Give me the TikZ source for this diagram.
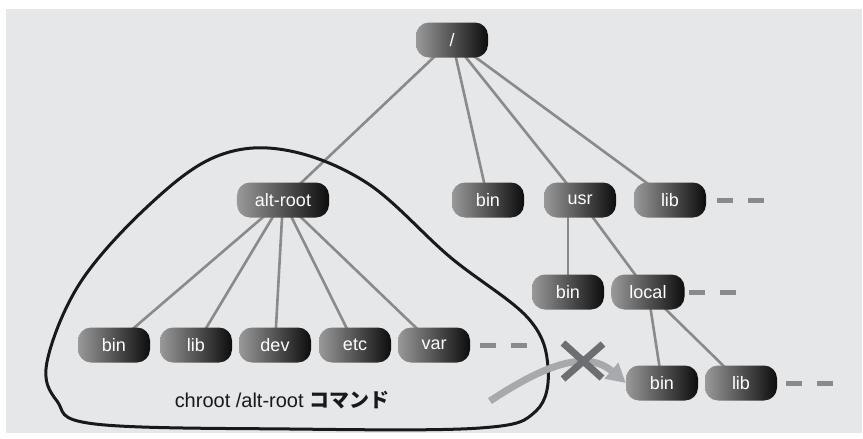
\documentclass[tikz,border=0pt]{standalone}
\usepackage{fontspec}
\setmainfont{Liberation Sans}
\newfontfamily\cjk{Noto Sans CJK JP}
\usetikzlibrary{backgrounds,arrows.meta}
\definecolor{paper}{HTML}{E6E7E8}
\definecolor{linkgray}{HTML}{8A8A8A}
\definecolor{pushgray}{HTML}{A7A9AC}
\definecolor{crossgray}{HTML}{6D6E71}
\tikzset{
  dirbox/.style={rounded corners=13pt, minimum width=72pt, minimum height=35pt,
    inner xsep=18pt, inner ysep=0pt, left color=black!40, right color=black!95,
    text=white, font=\fontsize{18}{20}\selectfont},
  link/.style={linkgray, line width=2.6pt},
  more/.style={linkgray, line width=5pt, dash pattern=on 16pt off 15pt},
}
\begin{document}
\begin{tikzpicture}[x=1pt, y=-1pt]
\useasboundingbox (0,0) rectangle (863,439);

% directory tree
\node[dirbox] (root) at (452,40) {/};
\node[dirbox] (altroot) at (283,200) {alt-root};
\node[dirbox] (bin) at (488,200) {bin};
\node[dirbox] (usr) at (580,200) {usr};
\node[dirbox] (lib) at (670,200) {lib};
\node[dirbox] (usrbin) at (568,292) {bin};
\node[dirbox] (local) at (648,292) {local};
\node[dirbox] (localbin) at (662,383) {bin};
\node[dirbox] (locallib) at (741,383) {lib};

\node[dirbox] (altbin) at (114,345) {bin};
\node[dirbox] (altlib) at (196,345) {lib};
\node[dirbox] (altdev) at (275,345) {dev};
\node[dirbox] (altetc) at (355,345) {etc};
\node[dirbox] (altvar) at (434,345) {var};

\begin{scope}[on background layer]
\fill[paper] (6,9) rectangle (862,433);
\foreach \n in {altroot, bin, usr, lib}
    \draw[link] (root.center) -- (\n.center);
\foreach \n in {altbin, altlib, altdev, altetc, altvar}
    \draw[link] (altroot.center) -- (\n.center);
\draw[link] (usrbin.center |- usr.center) -- (usrbin.center);
\draw[link] (usr.center) -- (local.center);
\draw[link] (local.center) -- (localbin.center);
\draw[link] (local.center) -- (locallib.center);
\end{scope}

% more entries
\draw[more] ([xshift=11pt]lib.east) -- ++(47,0);
\draw[more] ([xshift=4pt]local.east) -- ++(47,0);
\draw[more] ([xshift=10pt]altvar.east) -- ++(47,0);
\draw[more] ([xshift=9pt]locallib.east) -- ++(47,0);

% chroot area
\draw[line width=3pt, black!90] plot[smooth cycle, tension=0.6] coordinates {
    (285,150) (367,183) (450,257) (528,318) (548,367) (536,411)
    (480,428) (290,429) (95,424) (57,401) (47,362) (80,283)
    (147,207) (215,157)};
\node[font=\fontsize{20}{22}\selectfont, text=black!90] (cmd) at (282,400)
    {chroot /alt-root {\cjk\bfseries コマンド}};

% blocked access
\coordinate (push) at (490,401);
\draw[pushgray, line width=7pt, -{Triangle[length=19pt, width=20pt]}]
    (push) .. controls (540,368) and (585,348) .. (localbin.west);
\draw[crossgray, line width=7pt] (563,343) -- (602,378) (603,344) -- (563,379);
\end{tikzpicture}
\end{document}
